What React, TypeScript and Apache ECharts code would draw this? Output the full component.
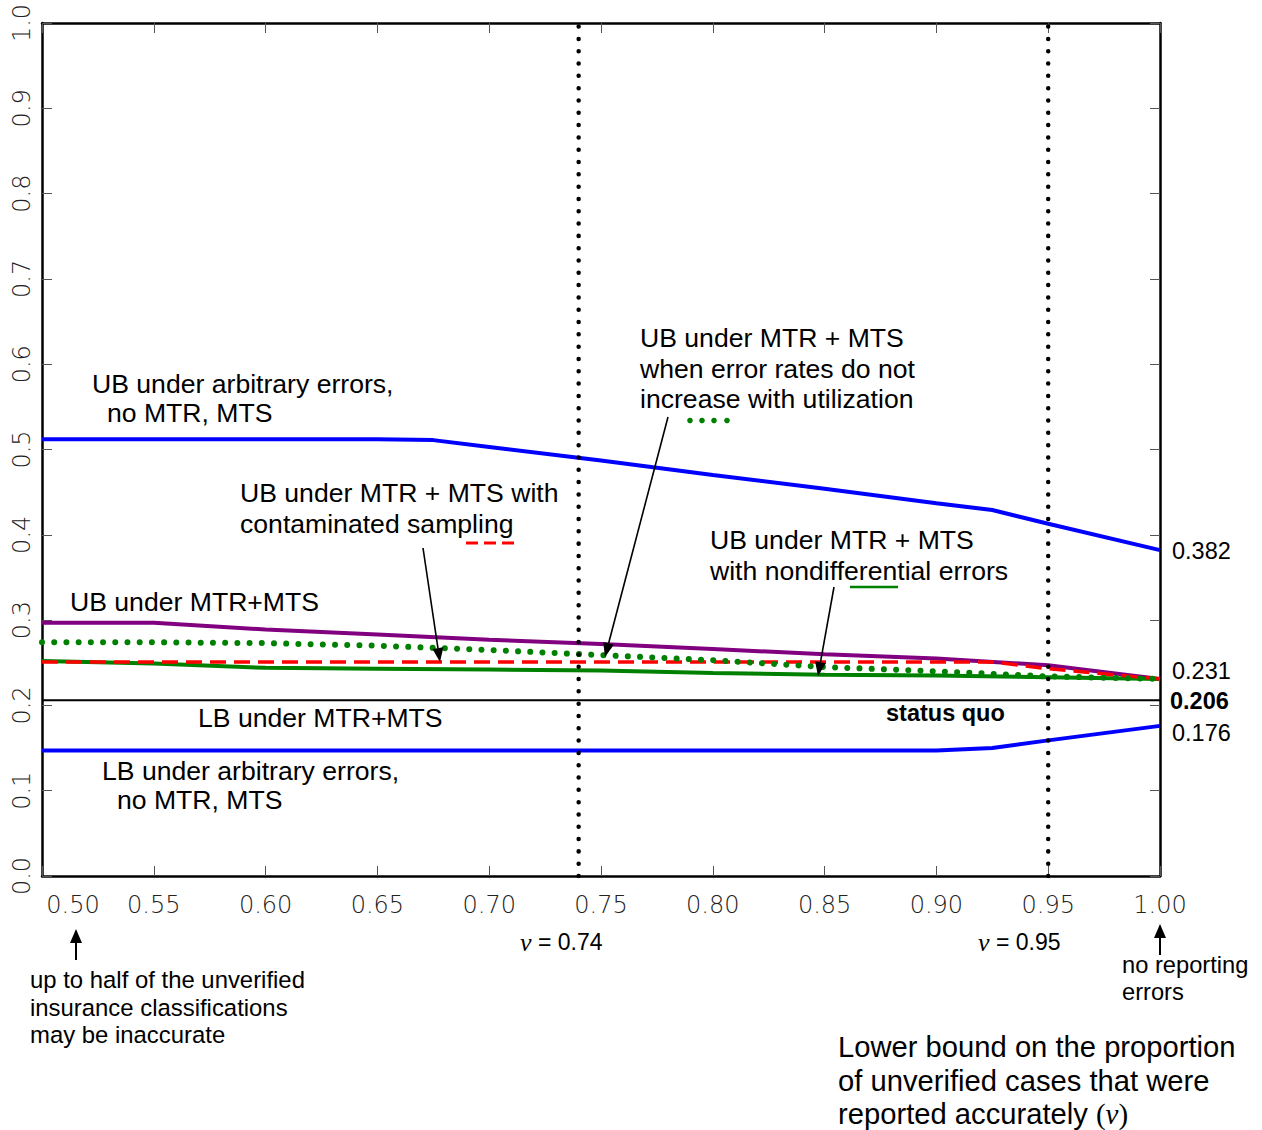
import React, { useEffect, useRef } from "react";
import * as echarts from "echarts";

// ---- data ----
const gridX = [0.5, 0.55, 0.6, 0.65, 0.7, 0.75, 0.8, 0.85, 0.9, 0.95, 1.0];

const ubArbX = [0.5, 0.55, 0.6, 0.65, 0.675, 0.7, 0.75, 0.8, 0.85, 0.9, 0.925, 0.95, 1.0];
const ubArbY = [0.512, 0.512, 0.512, 0.512, 0.511, 0.503, 0.487, 0.47, 0.454, 0.437, 0.429, 0.413, 0.382];

const lbArbX = [0.5, 0.55, 0.6, 0.65, 0.7, 0.75, 0.8, 0.85, 0.9, 0.925, 0.95, 1.0];
const lbArbY = [0.147, 0.147, 0.147, 0.147, 0.147, 0.147, 0.147, 0.147, 0.147, 0.15, 0.159, 0.176];

const ubMtrY = [0.297, 0.297, 0.289, 0.283, 0.277, 0.272, 0.266, 0.26, 0.255, 0.247, 0.231];
const ubNoIncY = [0.274, 0.274, 0.273, 0.27, 0.265, 0.259, 0.253, 0.245, 0.24, 0.234, 0.231];
const ubNondiffY = [0.252, 0.249, 0.244, 0.243, 0.242, 0.241, 0.238, 0.236, 0.235, 0.233, 0.231];

const ubContX = [0.5, 0.55, 0.6, 0.65, 0.7, 0.75, 0.8, 0.85, 0.9, 0.925, 0.95, 1.0];
const ubContY = [0.251, 0.251, 0.251, 0.251, 0.251, 0.251, 0.251, 0.251, 0.251, 0.251, 0.243, 0.231];

const statusQuo = 0.206;
const vLines = [0.74, 0.95];

const xTickLabels = ["0.50", "0.55", "0.60", "0.65", "0.70", "0.75", "0.80", "0.85", "0.90", "0.95", "1.00"];
const yTickLabels = ["0.0", "0.1", "0.2", "0.3", "0.4", "0.5", "0.6", "0.7", "0.8", "0.9", "1.0"];

const endLabels = [
  { text: "0.382", y: 551, bold: false },
  { text: "0.231", y: 671, bold: false },
  { text: "0.206", y: 701, bold: true },
  { text: "0.176", y: 733, bold: false },
];

const zip = (xs: number[], ys: number[]) => xs.map((x, i) => [x, ys[i]]);

const SANS = '"Liberation Sans", Arial, sans-serif';
const SERIF = '"Liberation Serif", serif';
const TICKFONT = '"DejaVu Sans", sans-serif';

function txt(text: string, x: number, y: number, size = 26.6, weight: any = "normal", extra: any = {}) {
  return {
    type: "text",
    x,
    y,
    z: 100,
    style: {
      text,
      fill: "#000",
      fontSize: size,
      fontFamily: SANS,
      fontWeight: weight,
      textAlign: "left",
      textVerticalAlign: "middle",
      ...extra,
    },
  };
}

function arrow(x1: number, y1: number, x2: number, y2: number, headLen = 14, headW = 5.5, lw = 1.6) {
  const dx = x2 - x1;
  const dy = y2 - y1;
  const L = Math.sqrt(dx * dx + dy * dy);
  const ux = dx / L;
  const uy = dy / L;
  const bx = x2 - ux * headLen;
  const by = y2 - uy * headLen;
  const px = -uy;
  const py = ux;
  return [
    {
      type: "line",
      z: 100,
      shape: { x1, y1, x2: bx, y2: by },
      style: { stroke: "#000", lineWidth: lw },
    },
    {
      type: "polygon",
      z: 100,
      shape: {
        points: [
          [x2, y2],
          [bx + px * headW, by + py * headW],
          [bx - px * headW, by - py * headW],
        ],
      },
      style: { fill: "#000" },
    },
  ];
}

export default function App() {
  const ref = useRef<HTMLDivElement>(null);

  useEffect(() => {
    if (!ref.current) return;
    const chart = echarts.init(ref.current, undefined, { renderer: "svg" });

    const xLabelFmt = (v: number) => {
      const idx = Math.round((v - 0.5) / 0.05);
      const s = xTickLabels[idx] ?? v.toFixed(2);
      return idx === 0 ? "{first|" + s + "}" : s;
    };
    const yLabelFmt = (v: number) => yTickLabels[Math.round(v * 10)] ?? v.toFixed(1);

    const tickStyle = { inside: true, length: 10, lineStyle: { color: "#555", width: 1 } };
    const axisLineStyle = { show: true, onZero: false, lineStyle: { color: "#000", width: 2.5 } };
    const vRich = { v: { fontFamily: SERIF, fontStyle: "italic", fontSize: 26 } };

    const graphics: any[] = [
      // annotations in plot
      txt("UB under arbitrary errors,", 92, 383.6),
      txt("no MTR, MTS", 107, 413.4),
      txt("UB under MTR + MTS with", 240, 493),
      txt("contaminated sampling", 240, 524),
      txt("UB under MTR+MTS", 70, 602),
      txt("LB under MTR+MTS", 198, 718),
      txt("LB under arbitrary errors,", 102, 770.6),
      txt("no MTR, MTS", 117, 800.4),
      txt("UB under MTR + MTS", 640, 338),
      txt("when error rates do not", 640, 369),
      txt("increase with utilization", 640, 399),
      txt("UB under MTR + MTS", 710, 540),
      txt("with nondifferential errors", 710, 571),
      txt("status quo", 886, 713, 23.5, "bold"),
      // legend samples
      {
        type: "line",
        z: 100,
        shape: { x1: 466, y1: 543, x2: 516, y2: 543 },
        style: { stroke: "#ff0000", lineWidth: 3, lineDash: [12, 6] },
      },
      ...[690, 702, 714, 727].map((cx) => ({
        type: "circle",
        z: 100,
        shape: { cx, cy: 420.5, r: 2.8 },
        style: { fill: "#008000" },
      })),
      {
        type: "line",
        z: 100,
        shape: { x1: 850, y1: 587, x2: 898, y2: 587 },
        style: { stroke: "#008000", lineWidth: 2.5 },
      },
      // arrows in plot
      ...arrow(423, 548, 440, 662),
      ...arrow(668, 417, 605, 657),
      ...arrow(834, 587, 818, 676),
      // end labels
      ...endLabels.map((e) =>
        txt(e.text, e.bold ? 1170 : 1172, e.y, 23.5, e.bold ? "bold" : "normal")
      ),
      // below axis
      txt("{v|v} = 0.74", 520, 942, 23, "normal", { rich: vRich }),
      txt("{v|v} = 0.95", 978, 942, 23, "normal", { rich: vRich }),
      ...arrow(76, 960, 76, 929, 14, 6, 2),
      txt("up to half of the unverified", 30, 979, 23.9),
      txt("insurance classifications", 30, 1007, 23.9),
      txt("may be inaccurate", 30, 1034, 23.9),
      ...arrow(1160, 955, 1160, 924, 14, 6, 2),
      txt("no reporting", 1122, 965, 23.7),
      txt("errors", 1122, 992, 23.7),
      txt("Lower bound on the proportion", 838, 1047, 29.2),
      txt("of unverified cases that were", 838, 1081, 29.2),
      txt("reported accurately {s|(}{v|v}{s|)}", 838, 1114, 29.2, "normal", {
        rich: {
          v: { fontFamily: SERIF, fontStyle: "italic", fontSize: 29 },
          s: { fontFamily: SERIF, fontSize: 29 },
        },
      }),
    ];

    chart.setOption({
      animation: false,
      backgroundColor: "#fff",
      grid: { left: 42, right: 102, top: 23, bottom: 254, containLabel: false },
      xAxis: [
        {
          type: "value",
          position: "bottom",
          min: 0.5,
          max: 1.0,
          interval: 0.05,
          axisLine: axisLineStyle,
          axisTick: tickStyle,
          splitLine: { show: false },
          axisLabel: {
            margin: 17,
            fontSize: 24,
            fontFamily: TICKFONT,
            fontWeight: 200,
            color: "#222",
            formatter: xLabelFmt,
            rich: {
              first: {
                padding: [0, 0, 0, 62],
                fontSize: 24,
                fontFamily: TICKFONT,
                fontWeight: 200,
                color: "#222",
              },
            },
          },
        },
        {
          type: "value",
          position: "top",
          min: 0.5,
          max: 1.0,
          interval: 0.05,
          axisLine: axisLineStyle,
          axisTick: tickStyle,
          splitLine: { show: false },
          axisLabel: { show: false },
        },
      ],
      yAxis: [
        {
          type: "value",
          position: "left",
          min: 0,
          max: 1,
          interval: 0.1,
          axisLine: axisLineStyle,
          axisTick: tickStyle,
          splitLine: { show: false },
          axisLabel: {
            rotate: 90,
            margin: 8,
            fontSize: 24,
            fontFamily: TICKFONT,
            fontWeight: 200,
            color: "#222",
            formatter: yLabelFmt,
          },
        },
        {
          type: "value",
          position: "right",
          min: 0,
          max: 1,
          interval: 0.1,
          axisLine: axisLineStyle,
          axisTick: tickStyle,
          splitLine: { show: false },
          axisLabel: { show: false },
        },
      ],
      series: [
        {
          name: "UB arbitrary",
          type: "line",
          showSymbol: false,
          data: zip(ubArbX, ubArbY),
          lineStyle: { color: "#0000ff", width: 4 },
          z: 3,
        },
        {
          name: "LB arbitrary",
          type: "line",
          showSymbol: false,
          data: zip(lbArbX, lbArbY),
          lineStyle: { color: "#0000ff", width: 4 },
          z: 3,
        },
        {
          name: "status quo",
          type: "line",
          showSymbol: false,
          data: [
            [0.5, statusQuo],
            [1.0, statusQuo],
          ],
          lineStyle: { color: "#000", width: 2 },
          z: 3,
        },
        {
          name: "UB MTR+MTS",
          type: "line",
          showSymbol: false,
          data: zip(gridX, ubMtrY),
          lineStyle: { color: "#800080", width: 4 },
          z: 3,
        },
        {
          name: "UB nondifferential",
          type: "line",
          showSymbol: false,
          data: zip(gridX, ubNondiffY),
          lineStyle: { color: "#008000", width: 4 },
          z: 4,
        },
        {
          name: "UB contaminated",
          type: "line",
          showSymbol: false,
          data: zip(ubContX, ubContY),
          lineStyle: { color: "#ff0000", width: 3.5, type: [16, 8] },
          z: 5,
        },
        {
          name: "UB no increase",
          type: "line",
          showSymbol: false,
          data: zip(gridX, ubNoIncY),
          lineStyle: { color: "#008000", width: 6, type: [0.01, 12.2], cap: "round" },
          z: 6,
        },
        ...vLines.map((v) => ({
          name: "v=" + v,
          type: "line",
          showSymbol: false,
          data: [
            [v, 0],
            [v, 1],
          ],
          lineStyle: { color: "#000", width: 4.5, type: [0.01, 12.3], cap: "round" },
          z: 7,
        })),
      ],
      graphic: graphics,
    });

    return () => chart.dispose();
  }, []);

  return (
    <div
      ref={ref}
      style={{ position: "absolute", left: 0, top: 0, width: 1262, height: 1130, background: "#fff" }}
    />
  );
}
